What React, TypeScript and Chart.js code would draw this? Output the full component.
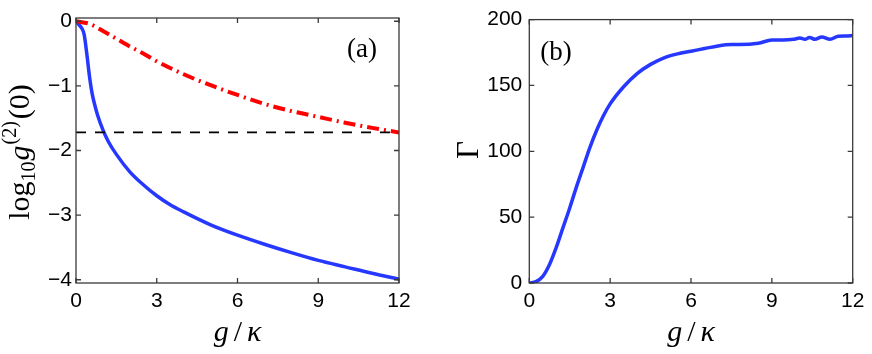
import React, { useEffect, useRef } from 'react';
import { Chart, registerables } from 'chart.js';
Chart.register(...registerables);

const W = 872;
const H = 354;

// ---- data ----
const xTicks = [0, 3, 6, 9, 12];
const aYTicks = [0, -1, -2, -3, -4];
const bYTicks = [0, 50, 100, 150, 200];

const aBlueX = [0, 0.1, 0.2, 0.3, 0.4, 0.5, 0.6, 0.7, 0.8, 1.0, 1.2, 1.5, 2, 2.5, 3, 3.5, 4, 5, 6, 7, 8, 9, 10, 11, 12];
const aBlueY = [0, -0.05, -0.1, -0.2, -0.5, -0.85, -1.12, -1.3, -1.45, -1.68, -1.86, -2.06, -2.33, -2.53, -2.7, -2.84, -2.95, -3.15, -3.31, -3.45, -3.58, -3.7, -3.8, -3.9, -3.99];

const aRedX = [0, 0.5, 1, 1.5, 2, 2.5, 3, 4, 5, 6, 7, 8, 9, 10, 11, 12];
const aRedY = [0, -0.04, -0.15, -0.27, -0.39, -0.5, -0.62, -0.82, -0.99, -1.14, -1.28, -1.39, -1.48, -1.57, -1.65, -1.72];

const aRefX = [0, 12];
const aRefY = [-1.72, -1.72];

const bX = [0, 0.25, 0.5, 0.75, 1, 1.25, 1.5, 1.75, 2, 2.25, 2.5, 2.75, 3, 3.5, 4, 4.5, 5, 5.5, 6, 6.5, 7, 7.5, 7.8, 8.5, 9, 9.4, 9.8, 10.04, 10.23, 10.4, 10.6, 10.85, 11.16, 11.47, 11.75, 12];
const bY = [0, 1, 5, 14, 27, 42, 57, 73, 88, 103, 116, 127, 136, 149, 159, 166, 171, 174, 176, 178, 180, 181, 181, 182, 184.5, 184.5, 185, 186, 185, 186.5, 185, 186.8, 185, 187.4, 187.5, 187.9];

const SANS = "'Liberation Sans', Arial, Helvetica, sans-serif";
const SERIF = "'Liberation Serif', 'Times New Roman', serif";

type Part = { text: string; font: string; dy?: number; gap?: number };
type RichText = { parts: Part[]; x: number; y: number; rotate?: boolean };

function drawRich(ctx: CanvasRenderingContext2D, t: RichText) {
  ctx.save();
  ctx.translate(t.x, t.y);
  if (t.rotate) ctx.rotate(-Math.PI / 2);
  ctx.fillStyle = '#000';
  ctx.textBaseline = 'alphabetic';
  ctx.textAlign = 'left';
  let total = 0;
  const widths: number[] = [];
  for (const p of t.parts) {
    ctx.font = p.font;
    const w = ctx.measureText(p.text).width + (p.gap || 0);
    widths.push(w);
    total += w;
  }
  let cx = -total / 2;
  t.parts.forEach((p, i) => {
    ctx.font = p.font;
    ctx.fillText(p.text, cx + (p.gap || 0) / 2, p.dy || 0);
    cx += widths[i];
  });
  ctx.restore();
}

function makeFramePlugin(xt: number[], yt: number[], texts: RichText[]) {
  return {
    id: 'frame',
    afterDatasetsDraw(chart: any) {
      const { ctx, chartArea: a, scales } = chart;
      ctx.save();
      ctx.strokeStyle = '#3a3a3a';
      ctx.lineWidth = 1.3;
      ctx.strokeRect(a.left, a.top, a.right - a.left, a.bottom - a.top);
      const L = 5;
      ctx.beginPath();
      for (const v of xt) {
        const px = scales.x.getPixelForValue(v);
        ctx.moveTo(px, a.bottom);
        ctx.lineTo(px, a.bottom - L);
        ctx.moveTo(px, a.top);
        ctx.lineTo(px, a.top + L);
      }
      for (const v of yt) {
        const py = scales.y.getPixelForValue(v);
        ctx.moveTo(a.left, py);
        ctx.lineTo(a.left + L, py);
        ctx.moveTo(a.right, py);
        ctx.lineTo(a.right - L, py);
      }
      ctx.stroke();
      ctx.restore();
      for (const t of texts) drawRich(ctx, t);
    },
  };
}

function pts(xs: number[], ys: number[]) {
  return xs.map((x, i) => ({ x, y: ys[i] }));
}

function axisOpts(ticks: number[], min: number, max: number, pad: number, fit: (s: any) => void, fmt: (v: number) => string) {
  return {
    type: 'linear',
    min,
    max,
    afterBuildTicks: (s: any) => {
      s.ticks = ticks.map((v) => ({ value: v }));
    },
    afterFit: fit,
    grid: { display: false, drawTicks: false },
    border: { display: false },
    ticks: {
      font: { family: SANS, size: 21 },
      color: '#000',
      padding: pad,
      maxRotation: 0,
      autoSkip: false,
      callback: (v: any) => fmt(Number(v)),
    },
  };
}

const minus = (v: number) => (v < 0 ? '\u2212' + Math.abs(v) : String(v));

function gk(cx: number): RichText {
  return {
    x: cx,
    y: 341,
    parts: [
      { text: 'g', font: `italic 30px ${SERIF}`, gap: 2 },
      { text: '/', font: `30px ${SERIF}`, gap: 8 },
      { text: '\u03BA', font: `italic 30px ${SERIF}`, gap: 2 },
    ],
  };
}

export default function App() {
  const refA = useRef<HTMLCanvasElement>(null);
  const refB = useRef<HTMLCanvasElement>(null);

  useEffect(() => {
    const textsA: RichText[] = [
      gk(237.5),
      {
        x: 29,
        y: 151,
        rotate: true,
        parts: [
          { text: 'log', font: `30px ${SERIF}` },
          { text: '10', font: `20px ${SERIF}`, dy: 6 },
          { text: 'g', font: `italic 30px ${SERIF}`, gap: 2 },
          { text: '(2)', font: `20px ${SERIF}`, dy: -13 },
          { text: '(0)', font: `30px ${SERIF}`, gap: 4 },
        ],
      },
      { x: 362, y: 57, parts: [{ text: '(a)', font: `27px ${SERIF}` }] },
    ];
    const textsB: RichText[] = [
      gk(691),
      { x: 478, y: 150, rotate: true, parts: [{ text: '\u0393', font: `31px ${SERIF}` }] },
      { x: 556, y: 60, parts: [{ text: '(b)', font: `27px ${SERIF}` }] },
    ];

    const chartA = new Chart(refA.current as HTMLCanvasElement, {
      type: 'line',
      data: {
        datasets: [
          {
            data: pts(aRefX, aRefY),
            borderColor: '#000',
            borderWidth: 1.6,
            borderDash: [10, 9],
            pointRadius: 0,
          },
          {
            data: pts(aRedX, aRedY),
            borderColor: '#ff0000',
            borderWidth: 4,
            borderDash: [12, 5, 2, 5],
            pointRadius: 0,
            cubicInterpolationMode: 'monotone',
          },
          {
            data: pts(aBlueX, aBlueY),
            borderColor: '#2638ff',
            borderWidth: 3.5,
            pointRadius: 0,
            cubicInterpolationMode: 'monotone',
          },
        ],
      } as any,
      options: {
        animation: false,
        responsive: false,
        events: [],
        layout: { padding: { left: 0, right: W - 399, top: 18, bottom: 0 } },
        plugins: { legend: { display: false }, tooltip: { enabled: false } },
        scales: {
          x: axisOpts(xTicks, 0, 12, 6, (s: any) => { s.height = H - 283; }, (v) => String(v)),
          y: axisOpts(aYTicks, -4.05, 0.05, 4, (s: any) => { s.width = 76; }, minus),
        } as any,
      },
      plugins: [makeFramePlugin(xTicks, aYTicks, textsA)],
    });

    const chartB = new Chart(refB.current as HTMLCanvasElement, {
      type: 'line',
      data: {
        datasets: [
          {
            data: pts(bX, bY),
            borderColor: '#2638ff',
            borderWidth: 3.5,
            pointRadius: 0,
            cubicInterpolationMode: 'monotone',
          },
        ],
      } as any,
      options: {
        animation: false,
        responsive: false,
        events: [],
        layout: { padding: { left: 529.3 - 80, right: W - 852.7, top: 18, bottom: 0 } },
        plugins: { legend: { display: false }, tooltip: { enabled: false } },
        scales: {
          x: axisOpts(xTicks, 0, 12, 6, (s: any) => { s.height = H - 283; }, (v) => String(v)),
          y: axisOpts(bYTicks, 0, 200, 7, (s: any) => { s.width = 80; }, (v) => String(v)),
        } as any,
      },
      plugins: [makeFramePlugin(xTicks, bYTicks, textsB)],
    });

    return () => {
      chartA.destroy();
      chartB.destroy();
    };
  }, []);

  const cs: React.CSSProperties = { position: 'absolute', left: 0, top: 0, width: W, height: H };
  return (
    <div style={{ position: 'absolute', left: 0, top: 0, width: W, height: H, background: '#fff' }}>
      <canvas ref={refA} width={W} height={H} style={cs} />
      <canvas ref={refB} width={W} height={H} style={cs} />
    </div>
  );
}
